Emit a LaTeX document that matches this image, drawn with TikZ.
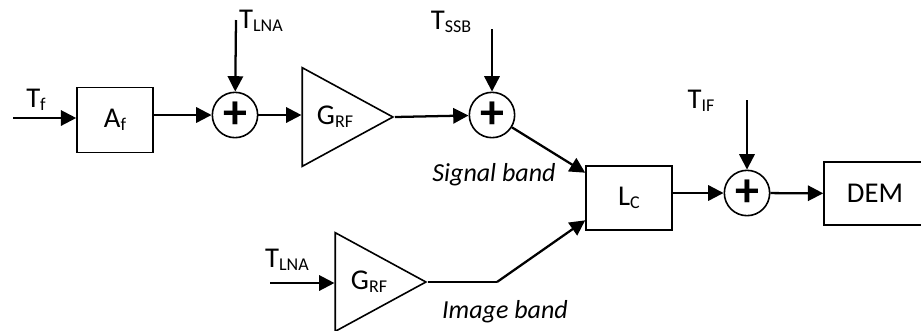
\documentclass[tikz,border=0pt]{standalone}
\usepackage{fontspec}
\setmainfont{Carlito}
\usetikzlibrary{arrows.meta,shapes.geometric}
\newcommand{\lowidx}[1]{\raisebox{-2pt}{\fontsize{13.5}{14}\selectfont #1}}
\tikzstyle{block}=[draw,line width=1.2pt,inner sep=0pt]
\tikzstyle{adder}=[draw,circle,line width=1.2pt,minimum size=34pt,inner sep=0pt,font=\fontsize{36}{36}\selectfont\bfseries]
\tikzstyle{amp}=[draw,isosceles triangle,isosceles triangle stretches,line width=1.2pt,minimum width=74pt,minimum height=68pt,inner sep=0pt,anchor=apex]
\tikzstyle{sig}=[-{Triangle[length=11.5pt,width=11.5pt]},line width=1.7pt]
\tikzstyle{wire}=[line width=1.7pt]
\tikzstyle{band}=[font=\fontsize{19.5}{22}\selectfont\itshape]

\begin{document}
\begin{tikzpicture}[x=0.75pt,y=-0.75pt,font=\fontsize{21.5}{25}\selectfont]
          \useasboundingbox (0,0) rectangle (921,330);
          \node[block,minimum width=57pt,minimum height=49pt] (af) at (115,120) {A\lowidx{f}};
          \node[adder] (s1) at (235,115) {+};
          \node[amp] (g1) at (395,117) {};
          \node (g1t) at (335,117) {G\lowidx{RF}};
          \node[adder] (s2) at (492,115) {+};
          \node[block,minimum width=64.5pt,minimum height=48pt] (lc) at (629,198) {L\lowidx{C}};
          \node[adder] (s3) at (747,193) {+};
          \node[block,minimum width=76.5pt,minimum height=47pt] (dem) at (875,193.5) {DEM};
          \node[amp] (g2) at (428,282) {};
          \node (g2t) at (369,282) {G\lowidx{RF}};
          \node (tf) at (36,100) {T\lowidx{f}};
          \node (tlna1) at (261,21) {T\lowidx{LNA}};
          \node (tssb) at (451,22) {T\lowidx{SSB}};
          \node (tif) at (701,101) {T\lowidx{IF}};
          \node (tlna2) at (287,260) {T\lowidx{LNA}};
          \node[band] (sigb) at (494,175) {Signal band};
          \node[band] (imgb) at (505,312) {Image band};
          \coordinate (tfin) at (13,118);
          \coordinate (lnain) at (236,20);
          \coordinate (ssbin) at (492,29);
          \coordinate (ifin) at (747,100);
          \coordinate (lna2in) at (270,283);
          \coordinate (kink) at (497,282);
          \draw[sig] (tfin) -- (af.west |- tfin);
          \draw[sig] (af.east |- s1) -- (s1);
          \draw[sig] (lnain) -- (s1);
          \draw[sig] (s1) -- (g1.west |- s1);
          \draw[sig] (g1.apex) -- (s2);
          \draw[sig] (ssbin) -- (s2);
          \draw[sig] (s2) -- (lc.150);
          \draw[sig] (lc.east |- s3) -- (s3);
          \draw[sig] (ifin) -- (s3);
          \draw[sig] (s3) -- (dem);
          \draw[sig] (lna2in) -- (g2.west |- lna2in);
          \draw[wire] (g2.apex) -- (kink);
          \draw[sig] (kink) -- (lc.207);
        \end{tikzpicture}
\end{document}
